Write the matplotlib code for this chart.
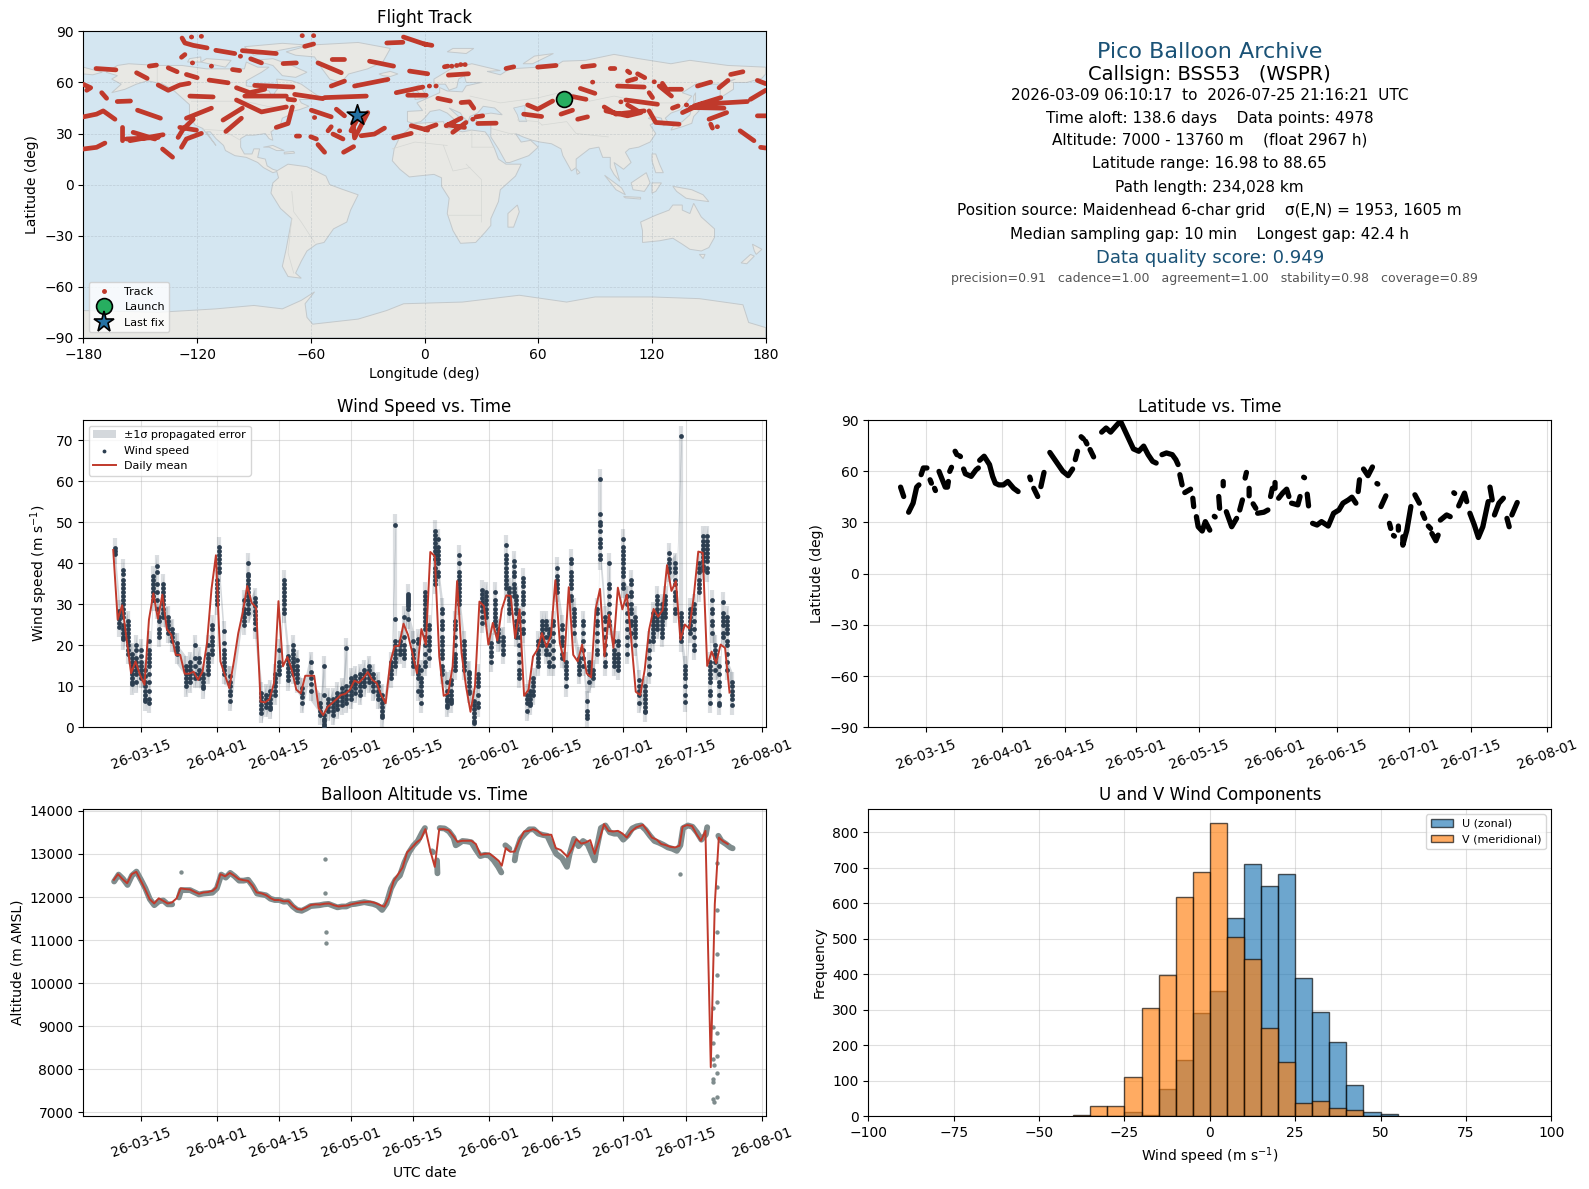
import datetime as dt
import numpy as np
import matplotlib
matplotlib.use("Agg")
import matplotlib.pyplot as plt
import matplotlib.dates as mdates
from matplotlib.lines import Line2D

START = mdates.date2num(dt.datetime(2026, 3, 1))
W, H = 1589, 1189
RED = "#c0392b"
NAVY = "#2c3e50"
GREY = "#7f8c8d"
TITLE_BLUE = "#1a5276"
LAND = "#e8e8e4"
OCEAN = "#d4e6f1"

# all times are days since 2026-03-01
wind_mean_start = 7.8
wind_mean = [43.3, 26.3, 29.8, 21.4, 13.2, 16.1, 12.8, 10.4, 26.3, 32.7, 26.5, 32.4, 24, 22.6, 17.7, 17.7, 13.1, 13.1,
             13.6, 11.6, 13.6, 20.6, 33.7, 42, 16.1, 12.8, 9.6, 16, 23, 28, 34.5, 30.4, 29.2, 6.3, 6.1, 6.9, 10.8, 30.8,
             14.9, 17.2, 14, 9.2, 8.3, 12.6, 12.6, 12.6, 4.7, 3, 5, 5.9, 6.9, 7.9, 8.2, 9.2, 11.4, 10.9, 12, 13.5, 11.6,
             10.8, 7.9, 5.9, 15.7, 19.8, 19.9, 25.3, 22.6, 18.1, 13.2, 24, 20.2, 42.8, 41.8, 17.3, 7.7, 8.3, 14.9, 35.7,
             18.1, 10, 3.8, 10, 30.7, 29.6, 20.2, 25.5, 21.2, 28.8, 32.2, 32.1, 21.8, 28.8, 7.7, 9.2, 17.3, 19, 23, 19.6,
             22.4, 35.9, 20.6, 16.1, 34.2, 17.7, 16.1, 20.2, 13.2, 12.2, 28.8, 33.8, 17.3, 27.5, 19.4, 34.1, 28.8, 32.4,
             21.4, 8.7, 7.9, 14, 23.9, 28.9, 27, 28.6, 39.6, 33.3, 35.7, 21.4, 25.1, 24.1, 32, 42.9, 42.6, 15, 18.5, 15.7,
             20.2, 19.4, 8.5]

wind_t = [8.1, 9.2, 10, 11, 12, 13, 14, 15, 15.7, 16.8, 17.5, 18, 19, 20, 21, 22, 24, 25, 26, 27, 28, 29, 30, 31, 31.5,
          32.5, 34, 37, 38, 39.5, 41, 42, 43, 44, 45, 46, 47, 48, 49, 50, 52, 54, 55, 56, 57, 58, 59, 60, 61, 62, 63, 64,
          65, 66, 67, 68, 70, 71, 72, 73, 73.7, 75, 76, 76.8, 77.6, 78.6, 79.8, 80.6, 81.5, 82.5, 83.5, 84.4, 85.3,
          86.3, 87.5, 88.6, 89.5, 90.4, 91.3, 92.4, 93.3, 94, 95, 95.8, 96.4, 97.5, 98, 98.6, 99.5, 100.5, 101.2, 101.8,
          103, 103.8, 104.6, 105.3, 106.2, 107.2, 108.3, 109.2, 110.2, 110.9, 112, 113.1, 113.9, 114.3, 115.3, 116.2,
          116.9, 118, 118.9, 119.9, 120.9, 122, 122.9, 123.8, 124.6, 125.5, 126.8, 127.7, 128.6, 129.6, 130.7, 131.4,
          132.3, 133.7, 135, 135.8, 137, 137.8, 138.9, 139.8, 140.8, 141.5, 141.9, 142.6, 143.4, 144.3, 145.3, 146.4]
wind_v = [
    [43.8, 43, 42.3], [28.5, 27.5, 26.5, 25.5, 24.5],
    [38.5, 37.5, 36, 35, 34, 33, 32, 31, 30, 29, 28, 27, 25, 24, 23, 22, 21.5], [26, 25, 24, 23, 22, 21, 20, 19, 18],
    [18, 17, 16, 15, 14, 13, 12, 11, 10.5], [20, 19, 17, 16, 15, 14, 13, 11], [19, 17.5, 16, 15, 14, 13, 12],
    [14, 12.5, 11, 10, 9, 8, 7, 6.5], [21, 19, 18, 17, 16, 15, 13, 11, 9, 7, 6],
    [37, 36, 35, 34, 33, 32, 31], [39.5, 38, 35, 33, 31, 29], [27, 26, 24, 23, 22],
    [35, 34, 33, 32, 31, 30, 29, 28, 27], [27, 26, 25, 24, 23], [24, 23, 22, 21], [20.5, 19.5, 19, 18],
    [15, 14, 13, 12, 11, 10], [16, 15, 14, 13, 12, 11], [20, 17, 15, 13, 12], [17, 16, 14, 13, 12],
    [13, 12, 11, 10, 9.5], [20, 18, 17, 16, 15, 14, 13], [25, 24, 22, 21, 20, 19, 18], [36, 35, 34, 33, 32, 31, 30],
    [44, 43, 42, 41, 40, 39, 38], [23.5, 20.5, 19, 18, 17, 16, 15, 14, 13], [12.5, 11, 10, 9, 8, 6.5],
    [31, 29, 28, 27, 26, 25], [40, 37.5, 37, 36, 35, 34, 33, 32, 31, 30, 29, 28], [31.5, 30.5, 29.5, 28.5, 27.5, 26.5, 25.5, 24],
    [8.5, 7.5, 6.5, 5.5, 4.5, 3.5], [8, 7, 6, 5], [9, 8, 7, 6, 5, 4.5], [13, 12, 11, 10, 9, 8], [19, 16, 15, 14, 13],
    [36, 35, 34, 33, 32, 31, 30, 29, 28], [17.5, 16.5, 15.5, 14.5, 13.5, 12.5, 11.5], [20, 19, 18, 17, 16, 15, 14, 13],
    [16.5, 15, 14, 13, 12, 11], [9.5, 8.5, 7.5, 6], [16, 13.5, 12, 10.5, 9], [6, 5, 4, 3],
    [15, 8, 3, 2, 1.5, 0.8, 0.3], [7, 6, 5, 4], [7, 6, 5, 4, 3], [8.5, 7.5, 6.5, 5.5, 4.5], [9.5, 8.5, 7.5, 6.5, 5.5],
    [19.3, 10, 9, 8, 7, 6], [12, 11, 10, 9, 8, 7], [12.5, 11.5, 10.5, 9.5, 8.5], [13, 12, 11, 10, 9, 8], [14, 13, 12, 11, 10],
    [15, 14, 13, 12, 11], [13, 12, 11, 10, 9], [11, 10, 9, 8, 7], [8, 7, 6, 5, 4, 3, 2.5], [16, 15, 14, 13, 12],
    [49.5, 26.5, 21, 20, 19, 18, 17, 16, 15], [21, 20, 19, 18], [27, 22, 20, 19, 18, 17],
    [32.5, 32, 31.5, 31, 30.5, 30, 29.5, 29, 26.5], [21, 19, 18, 17, 16, 15], [21.5, 20.5, 15, 14, 13, 12, 9], [14, 12, 11, 10, 9, 8, 6],
    [33, 32, 31, 30, 29, 28, 27, 26, 25, 24, 22, 20, 18, 16, 15], [25, 24, 22, 21, 20, 19, 17],
    [48, 47, 46, 45, 44, 43, 42, 41, 39, 38, 37, 36, 35], [46, 44, 43, 42, 41, 40, 38, 37],
    [29, 28, 26, 25, 24, 22, 21, 20, 19, 18, 17, 15, 14, 13], [11, 9, 8, 7, 6.5, 5.5, 5], [11.5, 10.5, 9, 8, 7, 6.5, 6],
    [26, 25, 24, 22, 20, 18, 17, 16, 15, 14], [42, 40, 38, 37, 36, 35, 34, 33, 32, 31, 30],
    [21, 20, 19, 18, 17, 16, 15, 14], [13.6, 13, 12, 11, 10, 9, 8.5], [6.5, 5.5, 4.5, 3.5, 2.5, 1.5, 1], [13, 12, 11, 10, 8, 6, 5],
    [33.5, 32.5, 31.5, 30.5, 29.5, 28.5, 27, 25.5], [33, 32, 31, 30, 29, 28, 27], [20.5, 19.5, 18.5, 17.5, 16],
    [33, 31, 30, 29, 28, 27, 26, 25], [24, 23, 22, 21], [22, 21, 20, 19, 18], [44.5, 42, 41, 40, 39, 38, 37, 36, 35, 34],
    [34, 33, 32, 31, 30, 29, 28], [40.5, 39.5, 38, 37, 35, 34, 33, 32], [32, 31, 30, 29, 28, 26, 25, 24, 23, 22],
    [27, 26, 24, 22, 20, 18, 16, 14, 13, 12], [36.5, 35.5, 34.5, 33, 32, 31, 30, 28, 26, 24, 23], [8, 7, 6, 4], [9, 8, 7, 6, 5.5],
    [12, 11, 10, 9, 8], [21, 20, 19, 18, 17, 16, 15], [26, 25, 24, 23, 22, 21, 20], [26, 25, 24, 22, 20, 19, 18],
    [24, 23, 22, 20, 18, 16, 15], [26, 25, 23, 21, 19, 17, 15], [39, 37, 36, 35, 34, 33], [25, 24, 22, 21, 20, 18, 17],
    [16, 15, 14, 13, 12, 10], [41, 40, 38, 37, 36, 35, 34, 32, 31], [29, 28, 27, 26, 25, 23], [17, 16, 15, 14, 13],
    [26, 25, 23, 21, 19, 17, 15], [6.5, 4, 3, 2.2], [16, 15, 14, 13, 11], [14, 13, 12], [29, 28, 26, 25, 23, 21, 19, 18],
    [60.6, 52, 50, 49.5, 48, 46, 45, 44, 42, 41], [27, 26, 24, 22, 20, 18, 16, 15], [40, 35, 34, 32, 30, 28, 26, 25],
    [21, 19, 18, 17, 16, 15], [21, 20, 18, 17, 16, 15, 14], [46, 44, 43, 42, 41, 40, 39, 38, 37, 35, 34],
    [32, 30, 28, 26, 24, 22, 20, 18], [36, 35, 33, 32, 30, 29, 28, 26, 25, 23], [27, 26, 25, 24, 23, 22, 20], [11.5, 10, 9, 8, 6],
    [10, 9, 8, 7, 6, 5, 4, 3.8], [21, 19, 17, 15, 13], [28, 27, 26, 25, 24, 23, 22, 21], [32, 31, 30, 29, 28, 27, 26, 25, 24],
    [30, 29, 28, 27, 26, 25, 24, 23, 22], [32, 31, 30, 29, 28, 27], [42.5, 41, 40, 39, 38], [40, 39, 38, 36, 35, 33, 32, 31, 29, 28],
    [71, 28, 27, 26, 25, 24, 23, 22, 21], [15, 14, 13, 12, 10, 8, 6.2], [29, 28, 27, 26, 25, 24, 23],
    [30, 29, 28, 26, 24, 22, 20, 19], [40, 39, 38, 36, 35, 34, 33], [46.7, 45.5, 44.5, 43.5, 42.5, 41.5, 40.5, 39.5, 38.5],
    [46.7, 45.5, 44.5, 43.5, 42.5, 41.5, 40.5, 39, 38], [16, 15, 14, 13, 12, 11, 9, 8, 6], [31, 29, 28, 26, 25, 23],
    [20, 19, 18, 17, 16, 14], [15, 13, 11, 10, 8, 6, 5.5], [30.5, 28, 27, 26, 25, 23, 22], [27, 26, 25, 24, 23, 21, 20, 18, 16, 14],
    [11, 10, 9, 8, 7, 5.5],
]
wind_err = 2.5

# None splits the streaks
lat_t = [8.3, 9, None, 10.1, 11.1, 11.9, 12.4, None, 12.9, 13.4, 14.2, None, 14.9, 15.2, None, 15.9, 16.1, None, 16.9, 17.5,
         18.3, 18.8, 19, None, 19.3, 19.7, None, 20.5, 20.9, None, 21.5, 21.7, None, 22.4, 22.8, 24.1, 25.2, 25.7, None, 26, 27,
         28.2, 28.9, 29.5, 30.3, 31.3, 32.3, 33.6, 34.6, None, 37.2, 37.4, None, 38.1, 39, None, 39.7, 40.4, None, 41.7, 44.6,
         45.8, 46.8, None, 47.4, 47.9, None, 48.7, 49.2, None, 49.7, 50, None, 50.7, 51.5, None, 53.3, 54.3, 55.3, 56.3, 57.5,
         60.4, 61.6, 62.7, 63.7, 64.7, 65.5, None, 66.8, 67.8, 69.1, 69.9, 70.4, None, 70.8, 71.3, None, 71.9, 73.2, None,
         73.7, 73.9, None, 74.5, 74.9, 75.8, 76.5, 77.5, None, 78.5, 78.7, None, 79.5, 79.7, None, 80.5, 80.5, None, 81.2, 82.4,
         83.5, None, 84.2, 84.8, None, 85.4, 85.7, None, 86.3, 86.3, None, 87.2, 87.8, None, 88.2, 89.6, 90.5, None, 91.1, 91.5,
         None, 92.1, 92.1, None, 92.9, 93.8, 94.7, 95.2, None, 95.8, 97.2, 97.7, None, 98.5, 98.7, None, 99.3, 99.6, None, 100.5,
         101.5, 102.5, 104, 105.2, 106.4, 107.3, 108.5, 109.3, 110.2, None, 110.7, 111, None, 111.9, 112.9, 113.9, None, 114.9,
         115.1, None, 115.8, 116.9, None, 117.7, 118, None, 118.6, 118.8, None, 119.7, 119.7, None, 120.7, 120.7, 121.6, 122.5,
         None, 123.4, 124.4, None, 125.1, 125.6, None, 126.4, 126.9, None, 127.2, 128.1, 128.6, None, 129.1, 130.5, 131.3, None,
         132.1, 132.3, None, 133.2, 134.5, 135, None, 135.7, 136.7, 137.6, 138.6, 139.8, None, 140.2, 140.7, None, 141.2, 142.2,
         143.2, None, 144, 144.5, None, 145.1, 146.3]
lat_v = [50.7, 45.2, None, 36, 41.3, 50.7, 52, None, 58, 61.9, 61.9, None, 55, 53, None, 50, 48.7, None, 59.9, 56,
         50.7, 50.7, 54, None, 59.9, 62.3, None, 71.7, 69.7, None, 69, 68.6, None, 61.3, 58.5, 57, 60.9, 61.9, None, 66.4, 68.8,
         63.9, 57, 53, 52, 52, 54, 50, 48.1, None, 56.6, 55, None, 50, 45.2, None, 51, 59.3, None, 71, 60,
         57.4, 61.3, None, 66.8, 71.7, None, 80.2, 79, None, 77.6, 76, None, 72.7, 68.4, None, 82.9, 85.3, 82.9, 85.9, 89.4,
         73.1, 71.7, 74.7, 69.7, 65.8, 64.8, None, 69.7, 70.7, 69.7, 66.8, 63.9, None, 58, 52, None, 47.5, 49.5, None,
         44.2, 39.3, None, 33.4, 27.5, 25, 30.5, 25.5, None, 33.6, 33.2, None, 45.2, 38.3, None, 54, 51.5, None, 36.3, 27.5,
         32.4, None, 37.3, 43.2, None, 56, 59.3, None, 50, 45.6, None, 40.9, 38.3, None, 35.4, 36, 37.3, None, 45.2, 50,
         None, 53.4, 50, None, 44.2, 47.2, 49.5, 45.2, None, 41.3, 40.3, 45.2, None, 56.5, 56.2, None, 46.6, 39.7, None, 29.5,
         28.5, 30.5, 27.9, 35.4, 37.3, 41.3, 43.2, 44.8, 41.3, None, 48.1, 55, None, 61.3, 57.4, 62.5, None, 52.8,
         52.5, None, 39.3, 45.6, None, 29.5, 26.5, None, 22.4, 22, None, 27.9, 25.5, None, 21.6, 16.7, 25.5, 39.3,
         None, 46.2, 41.3, None, 35.4, 32.4, None, 27.9, 26.5, None, 23.6, 19.3, 22.6, None, 31.4, 34.4, 33.4, None,
         47.4, 47, None, 39.7, 47.2, 42.2, None, 35.4, 28.5, 21.2, 27.5, 42.2, None, 50.7, 43.2, None, 34.4, 41.3,
         44.2, None, 32.4, 27.5, None, 34.4, 41.7]

alt_mean_t = [7.95, 8.87, 9.9, 10.92, 11.95, 12.97, 14, 14.92, 15.95, 16.97, 18, 19, 20, 20.96, 22, 22.9, 23.9, 24.96, 26, 27, 28,
              29, 30.1, 30.9, 31.8, 32.85, 33.9, 34.9, 35.9, 37, 38, 39, 39.9, 41, 42, 43, 43.9, 44.9, 46, 47, 48, 49, 50, 51.1,
              52.1, 53.1, 54.1, 55.2, 56.2, 57.2, 58.3, 59.3, 60.3, 61.3, 62.4, 63.4, 64.4, 65.4, 66.5, 67.5, 68.5, 69.5, 70.6,
              71.6, 72.6, 73.6, 74.7, 75.7, 76.7, 77.7, 78.8, 79.8, 80.8, 81.8, 82.9, 83.9, 84.9, 85.9, 87, 88, 89, 90, 91, 92, 93,
              94.1, 94.8, 95.7, 96.7, 97.7, 98.7, 99.8, 100.8, 101.8, 102.8, 103.9, 104.9, 105.9, 106.9, 108, 109.5, 110.5, 111.5,
              112.6, 113.6, 114.6, 115.6, 116.7, 117.7, 118.7, 119.7, 120.8, 121.8, 122.8, 123.8, 124.9, 126.4, 127.4, 128.4,
              129.5, 130.5, 131.5, 132.5, 133.6, 134.6, 135.3, 136.3, 137.4, 138.4, 139.4, 140.4, 141.6, 142.5, 143.4, 144.4, 145.4]
alt_mean = [12400, 12530, 12415, 12320, 12530, 12585, 12375, 12185, 11950, 11850, 11970, 11910, 11850, 11875, 11970, 12200, 12185,
            12175, 12120, 12075, 12105, 12115, 12145, 12220, 12530, 12480, 12560, 12495, 12415, 12390, 12375, 12260, 12105, 12085,
            12045, 11975, 11930, 11930, 11900, 11905, 11800, 11720, 11705, 11760, 11815, 11830, 11825, 11845, 11850, 11810, 11780,
            11795, 11805, 11835, 11860, 11875, 11885, 11890, 11860, 11815, 11775, 11990, 12375, 12530, 12685, 13035, 13150, 13265,
            13345, 13575, 13075, 12700, 13575, 13575, 13550, 13420, 13280, 13305, 13305, 13305, 13230, 12980, 13000, 13010, 12935,
            12840, 12725, 13135, 13050, 13055, 13305, 13520, 13535, 13575, 13535, 13445, 13445, 13445, 13135, 13090, 12935, 13110,
            13345, 13240, 13265, 13320, 13000, 13345, 13690, 13535, 13520, 13535, 13475, 13380, 13520, 13615, 13675, 13535, 13380,
            13330, 13230, 13205, 13165, 13150, 13190, 13630, 13670, 13650, 13460, 13305, 13535, 8050, 11835, 13380, 13290, 13230]

alt_t = [8, 9, 10, 11, 12, 13, 14, 15, 16, 17, 18, 19, 20, 21, None, 22.5, 23, 25, 26, 27, 28, 29, 30, 31, 32, 33, 34, 35, 36, 37, 38,
         39, 40, 41, 42, 43, 44, 45, 46, 47, 48, 49, 50, 51, 52, 53, 54, 55, 56, 57, 58, 59, 60, 61, 62, 63, 64, 65, 66, 67, 68, 69,
         70, 71, 72, 73, 74, 75, 76, 77, 77.6, None, 79.2, 79.4, None, 80.3, 80.4, None, 80.9, 82, 83, 84, 84.5, 85, 86, 87, 88, 89, 90,
         91, 92, 93, 94, 94.7, None, 95.6, 96.5, None, 97.7, 98, 99, 100, 101, 102, 103, 104, 105, 106, 107, 108.3, 109.4, 110, 111,
         112, 113, 114, 115.6, 116, 117, 118, 119, 120, 121, 122, 123, 124, 125, 126, 127, 128, 129, 130, 131, 132, 133, 134, 134.8,
         135.4, 136.5, 137.5, 138.5, 139.5, 140.5, 140.8, None, 143.3, 144, 145, 146, 146.5]
alt_v = [12360, 12520, 12420, 12280, 12500, 12590, 12400, 12200, 11950, 11810, 11900, 11920, 11830, 11830, None, 11990, 12160, 12160,
         12110, 12060, 12080, 12090, 12100, 12200, 12520, 12450, 12560, 12480, 12380, 12380, 12400, 12260, 12080, 12060, 12040, 11960,
         11930, 11930, 11890, 11900, 11780, 11700, 11680, 11730, 11790, 11800, 11810, 11830, 11840, 11800, 11760, 11780, 11780, 11830,
         11840, 11860, 11880, 11860, 11840, 11800, 11700, 11850, 12200, 12400, 12500, 12800, 13030, 13190, 13300, 13500, 13600, None,
         13060, 13040, None, 12850, 12550, None, 13600, 13590, 13520, 13380, 13200, 13230, 13300, 13290, 13270, 13100, 12950, 12980,
         12960, 12850, 12700, 12570, None, 13200, 13120, None, 12850, 13050, 13350, 13470, 13570, 13570, 13470, 13440, 13420, 13200,
         13000, 12900, 12700, 13000, 13350, 13180, 13300, 13230, 12850, 13100, 13600, 13660, 13500, 13470, 13470, 13330, 13430, 13590,
         13640, 13660, 13560, 13420, 13300, 13260, 13210, 13150, 13120, 13070, 13200, 13600, 13660, 13630, 13500, 13330, 13450, 13620,
         None, 13420, 13300, 13230, 13150, 13130]
alt_out_t = [23, 55.2, 55.3, 55.5, 55.5, 134.6, 143.1, 143.1, 143.1, 143.1, 143.1, 143.1, 143.1, 143.1, 143.1, 143.1, 143.1, 142.1,
             142.1, 142.1, 142.2, 142.3, 142.1, 142.2, 142.1, 142.3]
alt_out_v = [12585, 12880, 12090, 11190, 10930, 12530, 12780, 12225, 11700, 11190, 10680, 10190, 9565, 8845, 8310, 7920, 7355, 9425,
             8975, 8615, 8245, 8090, 7780, 7700, 7315, 7240]

bin_edges = [-40, -35, -30, -25, -20, -15, -10, -5, 0, 5, 10, 15, 20, 25, 30, 35, 40, 45, 50]
u_counts = [0, 0, 0, 10, 2, 75, 158, 291, 351, 557, 709, 648, 681, 390, 293, 208, 87, 10, 5]
v_counts = [3, 28, 28, 110, 305, 398, 618, 687, 825, 505, 443, 248, 151, 38, 41, 22, 18, 0, 0]

track_lon = [-127.9, -126.4, -122, -114.7, None, -123, -122.8, None, -117.8, -117.6, None, -128.2, -126.4, None, -110.1, -100.1, None, -97.2, -97,
             None, -96.1, -78.2, None, -91.7, -86, None, -74.6, -67.6, None, -63.2, -58.5, None, -64.6, -64.4, None, -58.6, -58.4, None, -122.5, -122.3,
             None, -112.5, -112.3, None, -101.3, -97.5, None, -173.3, -162.8, None, -145.2, -141.4, None, -151.9, -146.3, None, -135.2, -130.5, None,
             -125.6, -119.9, None, -113.6, -103.6, None, -140.5, -135.2, -129.1, -124.2, None, -180, -176.1, -178.2, None, -170.3, -167.7, None, -162.1, -155.1,
             None, -123.8, -111.5, None, -99.2, -92.2, -84.3, None, -89.6, -69.4, None, -94.8, -72.9, None, -99.2, -86, -72.9, None, -72, -68.5, None, -68.5, -53.6,
             None, -52.7, -30.7, None, -56.2, -43.9, None, -48.7, -42.2, None, -29, -16.3, None, -19.9, -11.4, None, -11.1, 0.9, None, -7.9, 1.7, None, -49.2, -42.2,
             None, -36.9, -19.3, None, -14.9, -0.9, None, -8.8, 0.9, None, -180, -173, -169.5, -163.3, None, -151.4, -139.3, None, -125.6, -112.4, None, -130, -127.3, -122,
             None, -128.2, -125.6, -117.7, None, -129.1, -120.3, None, -106.3, -96.1, None, -104.8, -96.6, None, -78.2, -72, -69.7, None, -59.7, -49.2, None, -58.1, -57.9,
             None, -46.5, -42.2, None, -37.8, -36.9, -29.9, None, -34, -38.8, None, -50.9, -49.2, None, -48.3, -43, None, -44.9, -44.7, None, -67.6, -65.9, None, -60, -57,
             None, -56.2, -52.7, None, -42.7, -37.4, None, -33.4, -26.4, -21.1, None, -16.3, -7, None, -7, 1.7, None, -180, -173, -168.6, None, -159.3, -159.3, None,
             -157.2, -140.5, None, -153.7, -142.2, None, -155.4, -137.9, None, -138.2, -132.9, None, 0, 3.9, None, 10.5, 12.3, None, 14.3, 14.5, None, 16.9, 17.1, None,
             19, 19.2, None, 21.3, 21.5, None, 12.6, 23.2, None, 2.5, 2.7, None, 6, 6.2, None, 7, 13.7, None, 19.3, 23.7, 26, None, 0, 6.1, None, 11.4, 19.3, None,
             14.9, 21.9, None, 12.3, 21.1, None, 25.4, 25.6, None, 27.2, 30.7, None, 28.1, 37.8, None, 43, 47.1, None, 59.7, 69.4, None, 83.4, 89.6, None, 98, 100.4, None,
             107.1, 108.3, None, 112.4, 116.2, None, 161.5, 168, None, 175.6, 180, None, 88.6, 88.8, None, 82.2, 89.9, None, 78.1, 85.2, None, 54.4, 59.7, 67.6, None,
             52.3, 61.8, None, 72, 78.1, None, 80.8, 86, None, 94.8, 101, 115.9, None, 95.7, 107.1, 114.1, None, 107.1, 112.4, None, 106.2, 122.9, None, 103.5, 103.7, None,
             101.8, 115.9, None, 107.1, 111.5, None, 118.5, 120.3, None, 121.1, 121.3, None, 123.8, 130.3, None, 129, 135.6, None, 125.5, 127.3, None, 118.5, 122, 134.3, None,
             130.8, 133.8, None, 138.1, 138.3, None, 136.1, 145.7, 170.3, None, 140.5, 158, None, 142.2, 156.3, None, 144, 151, None, 155.4, 160.1, None, 150.1, 159.4, None,
             151, 151.9, None, 154.4, 154.6, None, 166.5, 173.8, None, 172, 180, None, 175.6, 180, None, 177.3, 180]
track_lat = [86.1, 83.2, 81.8, 80.3, None, 86.7, 86.7, None, 87.1, 87.1, None, 74.8, 76.4, None, 78.9, 77, None, 75.4, 75.4,
             None, 78.7, 77, None, 73.9, 71.5, None, 71.1, 71.5, None, 81.2, 82.6, None, 87.5, 87.5, None, 87.5, 87.5, None, 71.5, 71.5,
             None, 69.6, 69.6, None, 67.6, 67, None, 68.2, 67.4, None, 69.6, 70.2, None, 65.7, 62.4, None, 68.6, 66.3, None,
             64.7, 62.8, None, 61.4, 59.8, None, 58.5, 55.4, 58.5, 59.5, None, 58.9, 56.9, 55.4, None, 54, 50.7, None, 48.8, 49.1,
             None, 52, 51.5, None, 56.9, 54, 56, None, 58.3, 57.3, None, 52, 52, None, 49.7, 42.7, 45.6, None, 50.1, 49.7, None, 53, 50.5,
             None, 51.1, 52, None, 71.5, 65.7, None, 73.5, 73.5, None, 72.5, 69.6, None, 83.2, 83.6, None, 86.7, 82.2, None, 66.7, 65.1, None, 57.9, 60.8,
             None, 57.9, 61.8, None, 54, 57.3, None, 52.5, 52.5, None, 39.8, 41.4, 43.3, 38.4, None, 43.7, 39, None, 39, 44.9, None, 27.7, 32.6, 38.4,
             None, 21.9, 26.8, 30.1, None, 33.6, 32, None, 37.9, 44.9, None, 31.2, 39, None, 33.6, 35.9, 45.6, None, 43.7, 39.8, None, 39.4, 39.4,
             None, 44.3, 40.4, None, 36.5, 27.4, 42.3, None, 41.3, 31.6, None, 31.6, 34, None, 29.7, 26.8, None, 31.6, 31.6, None, 28.5, 28.5, None, 28.1, 26.8,
             None, 23.5, 19, None, 19, 22.3, None, 28.7, 29.7, 33.2, None, 27.4, 30.1, None, 34.6, 32, None, 20.9, 21.9, 24.4, None, 33.6, 25.8, None,
             26.8, 27.7, None, 30.7, 26.8, None, 25.8, 29.3, None, 20.9, 16.1, None, 82.6, 81.8, None, 69.2, 69.6, None, 69.6, 69.6, None, 70, 70, None,
             70.5, 70.5, None, 70.5, 70.5, None, 64.3, 65.1, None, 57.9, 57.9, None, 57.9, 57.9, None, 50.7, 49.1, None, 48.2, 48.6, 44.9, None, 32.6, 35.1, None, 34.6, 39, None,
             30.7, 36.5, None, 35.1, 33.6, None, 38.4, 38.4, None, 39.8, 40.4, None, 35.9, 36.1, None, 68.2, 69.2, None, 69, 70, None, 69.2, 70, None, 68.2, 68.2, None,
             66.7, 65.7, None, 65.1, 62.8, None, 64.7, 66.3, None, 61.2, 59.3, None, 60.2, 60.2, None, 56.5, 53.6, None, 51.7, 50.1, None, 46.8, 44.3, 49.1, None,
             41.4, 40, None, 41.4, 43.7, None, 38.4, 39.8, None, 45.6, 41.4, 43.3, None, 43.3, 40.4, 42.3, None, 46.8, 43.3, None, 49.7, 47.2, None, 48.6, 48.6, None,
             57.9, 57.3, None, 60.8, 62.2, None, 54, 51.1, None, 60.4, 60.4, None, 57.9, 52, None, 56, 56, None, 59.5, 56.5, None, 43.3, 36.5, 35.5, None,
             44.9, 46.2, None, 46.8, 46.8, None, 42.3, 47.2, 48.8, None, 45.3, 44.9, None, 46.2, 51.1, None, 57.9, 60.2, None, 56.9, 61.2, None, 38.4, 42.3, None,
             35.5, 33.2, None, 34, 34, None, 31.6, 25.8, None, 50.1, 55.4, None, 40.4, 40.4, None, 21.9, 21.5]
launch_lon, launch_lat = 73.5, 50.2
last_lon, last_lat = -35.5, 41

land = [
    [(-168, 66), (-162, 70), (-156, 71), (-141, 70), (-128, 70), (-115, 68), (-108, 68), (-95, 68), (-94, 72), (-88, 69), (-82, 69), (-86, 66),
     (-94, 61), (-94, 58), (-88, 57), (-82, 55), (-80, 51), (-79, 54), (-77, 57), (-78, 62), (-70, 61), (-65, 59), (-60, 55), (-56, 52), (-60, 50),
     (-66, 50), (-65, 48), (-61, 46), (-66, 44), (-70, 43), (-71, 41), (-75, 39), (-76, 35), (-81, 31), (-80, 26), (-82, 27), (-84, 30), (-90, 29),
     (-94, 29), (-97, 27), (-97, 22), (-95, 18), (-91, 18), (-90, 21), (-87, 21), (-88, 16), (-84, 15), (-83, 11), (-80, 9), (-77, 8), (-80, 7),
     (-85, 10), (-88, 13), (-94, 16), (-100, 17), (-105, 20), (-106, 23), (-110, 27), (-113, 31), (-115, 31), (-112, 26), (-110, 23), (-115, 30),
     (-117, 33), (-121, 35), (-124, 40), (-124, 47), (-128, 51), (-133, 56), (-138, 59), (-146, 61), (-152, 59), (-158, 56), (-165, 54), (-160, 59),
     (-165, 62), (-162, 64)],
    [(-62, 66), (-68, 63), (-75, 64), (-80, 70), (-90, 73), (-80, 74), (-70, 70)],
    [(-118, 72), (-105, 69), (-102, 73), (-115, 74)],
    [(-90, 76), (-62, 82), (-75, 83), (-95, 81)],
    [(-125, 72), (-118, 72), (-118, 75), (-124, 74)],
    [(-73, 78), (-60, 82), (-35, 83.5), (-18, 80), (-22, 72), (-30, 68), (-40, 65), (-44, 60), (-50, 62), (-54, 68), (-58, 75), (-68, 76)],
    [(-24, 65), (-18, 66.5), (-14, 65), (-18, 63.5), (-22, 64)],
    [(-85, 22), (-80, 23), (-74, 20), (-78, 20), (-82, 22)],
    [(-74, 19), (-69, 19.5), (-68.5, 18.5), (-74, 18)],
    [(-78, 8), (-72, 12), (-62, 10.5), (-52, 5), (-50, 0), (-44, -2.5), (-35, -6), (-39, -15), (-41, -22), (-48, -26), (-53, -34), (-57, -35),
     (-62, -39), (-65, -45), (-68, -52), (-65, -55), (-72, -54), (-75, -48), (-73, -38), (-70, -20), (-76, -14), (-81, -5), (-80, 1), (-77, 4)],
    [(-6, 35.8), (10, 37), (11, 33.5), (20, 31), (25, 32), (32, 31), (34, 28), (37, 21), (39, 15), (43, 12), (51, 12), (48, 5), (40, -3), (39, -10),
     (35, -20), (35, -24), (32, -28), (27, -34), (19, -34.5), (15, -27), (12, -17), (13, -8), (9, -1), (9, 4), (5, 6), (-4, 5), (-8, 4.5), (-13, 9),
     (-17, 14), (-16, 21), (-13, 28), (-9, 32)],
    [(49, -12), (50, -16), (47, -25), (44, -25), (44, -17)],
    [(-9, 37), (-9, 43), (-1, 43.5), (-4, 48), (2, 51), (8, 54), (8, 57), (12, 55), (20, 54.5), (22, 58), (30, 60), (22, 60), (21, 64), (24, 66), (18, 62),
     (17, 57), (13, 55.5), (11, 59), (5, 59), (5, 62), (14, 68), (25, 71), (40, 67), (33, 66.5), (40, 64.5), (45, 68), (60, 69), (68, 69), (73, 72.5),
     (85, 73), (100, 76.5), (113, 74), (130, 71), (140, 73), (160, 70), (170, 69.5), (180, 69), (180, 65), (178, 62.5), (170, 60), (163, 60), (163, 56),
     (156, 51), (156, 58), (164, 62), (155, 59), (143, 59), (136, 54), (141, 52), (135, 44), (130, 42), (127, 39), (129, 36), (126, 34.5), (125, 39),
     (121, 40), (118, 39), (122, 37), (119, 35), (122, 30), (119, 25), (113, 22), (108, 21), (106, 19), (109, 13), (105, 9), (100, 13), (103, 2),
     (100, 6), (98, 10), (98, 16), (94, 16), (92, 22), (87, 21), (80, 15), (80, 10), (77.5, 8), (73, 17), (72, 21), (67, 24), (61, 25), (57, 26), (52, 28),
     (48, 30), (51, 25), (56, 26), (60, 22), (55, 17), (45, 13), (43, 13), (39, 21), (35, 28), (35, 36), (28, 36.5), (26, 40), (29, 41), (35, 42), (41, 41),
     (37, 45), (31, 46), (28, 42), (24, 40), (23, 37), (20, 40), (19, 42), (13, 45), (18, 40), (16, 38), (12, 42), (8, 44), (3, 43), (0, 39), (-2, 37), (-6, 36)],
    [(-180, 69), (-170, 66), (-175, 64.5), (-180, 65)],
    [(-5, 50), (1, 51), (0, 54), (-3, 58.5), (-6, 57), (-3, 54), (-5, 52)],
    [(-10, 52), (-6, 52), (-6, 55), (-9, 54.5)],
    [(52, 71), (57, 71), (68, 77), (58, 75.5)],
    [(12, 78), (22, 77), (26, 80), (15, 80)],
    [(130, 32), (136, 34), (141, 36), (142, 40), (145, 43.5), (141, 45), (140, 41), (136, 37), (131, 34)],
    [(142, 46), (143, 50), (143, 54), (142, 52)],
    [(95, 5.5), (104, -2), (106, -6), (101, -3)],
    [(105, -7), (114, -7.5), (114, -8.5), (106, -7.8)],
    [(109, 1), (117, 7), (119, 1), (116, -4), (110, -3)],
    [(120, 1), (125, 1), (122, -4), (120, -5)],
    [(131, -1), (141, -3), (147, -6), (150, -10), (143, -9), (138, -8), (133, -4)],
    [(120, 18), (122, 18), (124, 12), (126, 7), (122, 7), (120, 14)],
    [(80, 9.5), (82, 7), (80.5, 6)],
    [(114, -22), (122, -18), (129, -15), (131, -12), (136, -12), (136, -15), (140, -17), (142, -11), (146, -19), (153, -26), (153, -31), (150, -37),
     (146, -39), (140, -38), (136, -35), (131, -31.5), (124, -33), (115, -34), (115, -27)],
    [(145, -41), (148, -41), (147, -43.5)],
    [(173, -35), (178, -38), (175, -41), (174, -39)],
    [(172, -41), (174, -42), (170, -46.5), (167, -46)],
    [(-180, -74), (-140, -75), (-110, -73), (-90, -71), (-75, -73), (-65, -68), (-58, -63), (-63, -70), (-62, -78), (-59, -82), (-35, -79), (-20, -74),
     (-11, -70), (20, -69), (50, -65), (75, -69), (90, -66), (120, -66), (145, -67), (168, -70.6), (171, -81), (180, -84), (180, -90), (-180, -90)],
]
lakes = [[(47, 45), (53, 46.5), (53, 40), (54, 37), (50, 37), (49, 41)]]
border_lon = [-123, -95, -83, -75, -67, None, -117, -106, -97, None, -141, -141, None, -70, -69, -65, -58, None, -70, -72, -69, None, 12, 25, 25,
              None, 25, 37, None, 10, 15, 24, None, -17, -5, 12, None, 30, 30, 22, None, 12, 30, None, 24, 40, 60, 75, 87, None, 87, 100, 118, 135,
              None, 62, 75, 80, 97, None, 49, 60, 62, None, 35, 45, 48]
border_lat = [49, 49, 46, 45, 47, None, 32.5, 31.7, 26, None, 70, 60, None, -4, -16, -22, -34, None, -20, -40, -52, None, 33, 32, 22,
              None, 22, 22, None, 23, 8, 10, None, 21, 25, 23, None, -22, 3, 12, None, -18, -18, None, 52, 48, 51, 55, 49, None, 49, 52, 48, 48,
              None, 35, 37, 30, 28, None, 38, 37, 35, None, 33, 30, 30]

info_lines = ["2026-03-09 06:10:17  to  2026-07-25 21:16:21  UTC", "Time aloft: 138.6 days    Data points: 4978",
              "Altitude: 7000 - 13760 m    (float 2967 h)", "Latitude range: 16.98 to 88.65", "Path length: 234,028 km",
              "Position source: Maidenhead 6-char grid    \u03c3(E,N) = 1953, 1605 m", "Median sampling gap: 10 min    Longest gap: 42.4 h"]


def dates(days):
    return START + np.array(days, dtype=float)


def axes_at(fig, x0, y0, x1, y1):
    return fig.add_axes([x0 / W, 1 - y1 / H, (x1 - x0) / W, (y1 - y0) / H])


def style_time(ax):
    ax.xaxis_date()
    ax.set_xlim(START + 1.1, START + 153.9)
    ax.xaxis.set_major_locator(mdates.DayLocator(bymonthday=[1, 15]))
    ax.xaxis.set_major_formatter(mdates.DateFormatter("%y-%m-%d"))
    ax.tick_params(axis="x", labelrotation=20)
    ax.grid(True, color="#b0b0b0", alpha=0.4, lw=0.8)
    ax.set_axisbelow(True)


fig = plt.figure(figsize=(W / 100, H / 100), dpi=100)
XL = (83.3, 765.7)
XR = (868.4, 1551.2)
ROW1 = (31.4, 337.8)
ROW2 = (420, 727.4)
ROW3 = (808.8, 1116)

# map
ax = axes_at(fig, XL[0], ROW1[0], XL[1], ROW1[1])
ax.set_facecolor(OCEAN)
for poly in land:
    xs, ys = zip(*poly)
    ax.fill(xs, ys, facecolor=LAND, edgecolor="#c3c9cc", lw=0.7, zorder=1)
for poly in lakes:
    xs, ys = zip(*poly)
    ax.fill(xs, ys, facecolor=OCEAN, edgecolor="#c3c9cc", lw=0.6, zorder=1.1)
ax.plot(np.array(border_lon, dtype=float), np.array(border_lat, dtype=float), color="#d5d7d4", lw=0.5, zorder=1.2)
ax.plot(np.array(track_lon, dtype=float), np.array(track_lat, dtype=float), color=RED, lw=3.4,
        solid_capstyle="round", solid_joinstyle="round", zorder=3)
ax.scatter([launch_lon], [launch_lat], s=130, c="#27ae60", edgecolors="black", linewidths=1.2, zorder=5)
ax.scatter([last_lon], [last_lat], s=240, c="#2471a3", marker="*", edgecolors="black", linewidths=1.2, zorder=5)
ax.set_xlim(-180, 180)
ax.set_ylim(-90, 90)
ax.set_xticks([-180, -120, -60, 0, 60, 120, 180])
ax.set_yticks([-90, -60, -30, 0, 30, 60, 90])
ax.grid(True, color="#9aa5ad", alpha=0.4, lw=0.5, ls="--")
for gl in [ax.xaxis.get_gridlines()[0], ax.xaxis.get_gridlines()[-1], ax.yaxis.get_gridlines()[0], ax.yaxis.get_gridlines()[-1]]:
    gl.set_visible(False)
ax.set_axisbelow(False)
ax.set_xlabel("Longitude (deg)")
ax.set_ylabel("Latitude (deg)")
ax.set_title("Flight Track", fontsize=12)
handles = [Line2D([], [], ls="", marker="o", color=RED, ms=2.5),
           Line2D([], [], ls="", marker="o", mfc="#27ae60", mec="black", mew=1.2, ms=11.4),
           Line2D([], [], ls="", marker="*", mfc="#2471a3", mec="black", mew=1.2, ms=15.5)]
ax.legend(handles, ["Track", "Launch", "Last fix"], loc="lower left", fontsize=8, framealpha=0.8)

# text panel
cx = (XR[0] + XR[1]) / 2 / W
def put(y, s, dx=0, **kw):
    fig.text(cx + dx / W, 1 - y / H, s, ha="center", va="center", **kw)
put(52.5, "Pico Balloon Archive", fontsize=16, color=TITLE_BLUE)
put(75, "Callsign: BSS53   (WSPR)", fontsize=14, color="black")
for yy, line in zip([96, 118.5, 140, 163.5, 187.5, 211, 234], info_lines):
    put(yy, line, fontsize=11, color="black")
put(258, "Data quality score: 0.949", fontsize=13, color=TITLE_BLUE)
put(279, "precision=0.91   cadence=1.00   agreement=1.00   stability=0.98   coverage=0.89", dx=4.5, fontsize=9, color="#555555")

# wind speed
ax = axes_at(fig, XL[0], ROW2[0], XL[1], ROW2[1])
wt = []
wv = []
for t, vals in zip(wind_t, wind_v):
    wt += [t] * len(vals)
    wv += vals
wv = np.array(wv, dtype=float)
wd = dates(wt)
ax.fill_between(wd, wv - wind_err, wv + wind_err, color=NAVY, alpha=0.2, lw=0, label="\u00b11\u03c3 propagated error")
ax.vlines(dates(wind_t), [min(v) - wind_err for v in wind_v], [max(v) + wind_err for v in wind_v], color=NAVY, alpha=0.17, lw=3)
ax.scatter(wd, wv, s=12, color=NAVY, lw=0, label="Wind speed", zorder=3)
mean_t = [wind_mean_start + i for i in range(len(wind_mean))]
ax.plot(dates(mean_t), wind_mean, color=RED, lw=1.4, label="Daily mean", zorder=4)
style_time(ax)
ax.set_ylim(0, 75)
ax.set_ylabel("Wind speed (m s$^{-1}$)")
ax.set_title("Wind Speed vs. Time", fontsize=12)
ax.legend(loc="upper left", fontsize=8, markerscale=0.8)

# latitude
ax = axes_at(fig, XR[0], ROW2[0], XR[1], ROW2[1])
ax.plot(dates(lat_t), np.array(lat_v, dtype=float), color="black", lw=3.8, solid_capstyle="round", solid_joinstyle="round")
style_time(ax)
ax.set_ylim(-90, 90)
ax.set_yticks([-90, -60, -30, 0, 30, 60, 90])
ax.set_ylabel("Latitude (deg)")
ax.set_title("Latitude vs. Time", fontsize=12)

# altitude
ax = axes_at(fig, XL[0], ROW3[0], XL[1], ROW3[1])
ax.plot(dates(alt_t), np.array(alt_v, dtype=float), color=GREY, lw=4.2, solid_capstyle="round", solid_joinstyle="round")
ax.scatter(dates(alt_out_t), alt_out_v, s=10, color=GREY, lw=0)
ax.plot(dates(alt_mean_t), alt_mean, color=RED, lw=1.4, zorder=4)
style_time(ax)
ax.set_ylim(6918, 14047)
ax.set_yticks(range(7000, 14001, 1000))
ax.set_xlabel("UTC date")
ax.set_ylabel("Altitude (m AMSL)")
ax.set_title("Balloon Altitude vs. Time", fontsize=12)

# histogram
ax = axes_at(fig, XR[0], ROW3[0], XR[1], ROW3[1])
ax.bar(bin_edges, u_counts, width=5, align="edge", color="tab:blue", alpha=0.65, edgecolor="black", label="U (zonal)")
ax.bar(bin_edges, v_counts, width=5, align="edge", color="tab:orange", alpha=0.65, edgecolor="black", label="V (meridional)")
ax.set_xlim(-100, 100)
ax.set_ylim(0, 866)
ax.grid(True, color="#b0b0b0", alpha=0.4, lw=0.8)
ax.set_axisbelow(True)
ax.set_xlabel("Wind speed (m s$^{-1}$)")
ax.set_ylabel("Frequency")
ax.set_title("U and V Wind Components", fontsize=12)
ax.legend(loc="upper right", fontsize=8)

fig.savefig("out.png", dpi=100)
